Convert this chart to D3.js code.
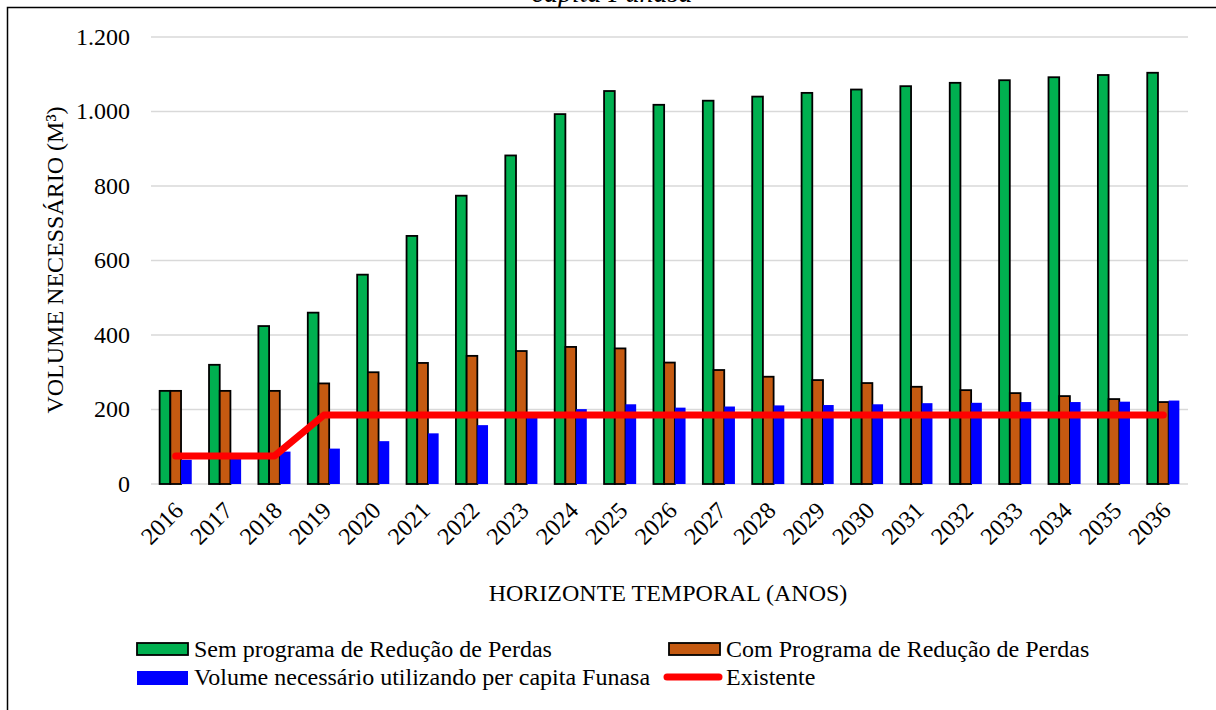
<!DOCTYPE html>
<html>
<head>
<meta charset="utf-8">
<script src="https://cdn.jsdelivr.net/npm/d3@7"></script>
<style>
  html, body { margin: 0; padding: 0; background: #fff; }
  svg { display: block; font-family: "Liberation Serif", "Times New Roman", serif; }
</style>
</head>
<body>
<svg id="chart" width="1216" height="710"></svg>
<script>
// Anos do horizonte de planejamento
const years = ["2016","2017","2018","2019","2020","2021","2022","2023","2024","2025","2026",
               "2027","2028","2029","2030","2031","2032","2033","2034","2035","2036"];

// Volume de reservação necessário (m³)
const semPrograma = [250, 320, 424, 460, 562, 666, 774, 882, 993, 1055, 1018,
                     1029, 1040, 1050, 1059, 1068, 1077, 1084, 1092, 1098, 1104];
const comPrograma = [250, 250, 250, 270, 300, 325, 344, 357, 368, 364, 326,
                     306, 288, 279, 271, 261, 252, 244, 236, 228, 220];
const perCapitaFunasa = [65, 68, 87, 95, 115, 136, 158, 180, 201, 214, 205,
                         208, 211, 212, 214, 217, 218, 220, 220, 221, 224];
const existente = [75, 75, 75, 185, 185, 185, 185, 185, 185, 185, 185,
                   185, 185, 185, 185, 185, 185, 185, 185, 185, 185];

const yTicks = [0, 200, 400, 600, 800, 1000, 1200];
const yTickLabels = ["0", "200", "400", "600", "800", "1.000", "1.200"];

const barSeries = [
  { name: "Sem programa de Redução de Perdas", values: semPrograma, fill: "#00B050", stroke: "#000" },
  { name: "Com Programa de Redução de Perdas", values: comPrograma, fill: "#C55A11", stroke: "#000" },
  { name: "Volume necessário utilizando per capita Funasa", values: perCapitaFunasa, fill: "#0000FF", stroke: "none" }
];

const svg = d3.select("#chart");
const FS = 24;

// moldura
svg.append("path")
  .attr("d", "M7.5,712 V7.5 H1220")
  .attr("fill", "none").attr("stroke", "#000").attr("stroke-width", 1.5);

// linha final da legenda da figura (cortada no topo)
svg.append("text")
  .attr("x", 612).attr("y", 2)
  .attr("text-anchor", "middle")
  .attr("font-style", "italic")
  .attr("font-size", 28)
  .text("capita Funasa");

const x = d3.scaleBand().domain(years).range([151, 1188]).paddingInner(0.35).paddingOuter(0.175);
const xs = d3.scaleBand().domain(barSeries.map(s => s.name)).range([0, x.bandwidth()]);
const y = d3.scaleLinear().domain([0, 1200]).range([484, 37]);

// grade horizontal
svg.append("g").selectAll("line").data(yTicks).join("line")
  .attr("x1", 151).attr("x2", 1188)
  .attr("y1", d => y(d)).attr("y2", d => y(d))
  .attr("stroke", "#d9d9d9").attr("stroke-width", 1.5);

// rótulos do eixo Y
svg.append("g").selectAll("text").data(yTicks).join("text")
  .attr("x", 130).attr("y", d => y(d)).attr("dy", "0.33em")
  .attr("text-anchor", "end").attr("font-size", FS).attr("fill", "#000")
  .text((d, i) => yTickLabels[i]);

// barras
barSeries.forEach(s => {
  svg.append("g").selectAll("rect").data(s.values).join("rect")
    .attr("x", (d, i) => x(years[i]) + xs(s.name))
    .attr("width", xs.bandwidth())
    .attr("y", d => y(d))
    .attr("height", d => y(0) - y(d))
    .attr("fill", s.fill)
    .attr("stroke", s.stroke)
    .attr("stroke-width", s.stroke === "none" ? 0 : 1.8);
});

// linha do volume existente
const line = d3.line()
  .x((d, i) => x(years[i]) + x.bandwidth() / 2)
  .y(d => y(d));
svg.append("path")
  .datum(existente)
  .attr("d", line)
  .attr("fill", "none").attr("stroke", "#FF0000")
  .attr("stroke-width", 7).attr("stroke-linecap", "round").attr("stroke-linejoin", "round");

// rótulos do eixo X
svg.append("g").selectAll("text").data(years).join("text")
  .attr("transform", d => `translate(${x(d) + x.bandwidth() / 2 + 3},506) rotate(-45)`)
  .attr("dy", "0.35em")
  .attr("text-anchor", "end").attr("font-size", FS)
  .text(d => d);

// títulos dos eixos
svg.append("text")
  .attr("x", 668).attr("y", 601)
  .attr("text-anchor", "middle").attr("font-size", FS)
  .text("HORIZONTE TEMPORAL (ANOS)");
svg.append("text")
  .attr("transform", "translate(63,260) rotate(-90)")
  .attr("text-anchor", "middle").attr("font-size", FS)
  .text("VOLUME NECESSÁRIO (M³)");

// legenda
const legendItems = [
  { name: barSeries[0].name, type: "rect", fill: barSeries[0].fill, stroke: "#000", x: 137, y: 649 },
  { name: barSeries[1].name, type: "rect", fill: barSeries[1].fill, stroke: "#000", x: 669, y: 649 },
  { name: barSeries[2].name, type: "rect", fill: barSeries[2].fill, stroke: "none", x: 137, y: 677 },
  { name: "Existente", type: "line", fill: "#FF0000", x: 669, y: 677 }
];
const lg = svg.append("g");
legendItems.forEach(it => {
  if (it.type === "rect") {
    lg.append("rect")
      .attr("x", it.x).attr("y", it.y - 6).attr("width", 51).attr("height", it.stroke === "none" ? 14 : 12)
      .attr("fill", it.fill).attr("stroke", it.stroke).attr("stroke-width", it.stroke === "none" ? 0 : 1.8);
  } else {
    lg.append("line")
      .attr("x1", it.x - 2).attr("x2", it.x + 50).attr("y1", it.y).attr("y2", it.y)
      .attr("stroke", it.fill).attr("stroke-width", 7).attr("stroke-linecap", "round");
  }
  lg.append("text")
    .attr("x", it.x + 57).attr("y", it.y).attr("dy", "0.33em")
    .attr("font-size", FS)
    .text(it.name);
});
</script>
</body>
</html>
